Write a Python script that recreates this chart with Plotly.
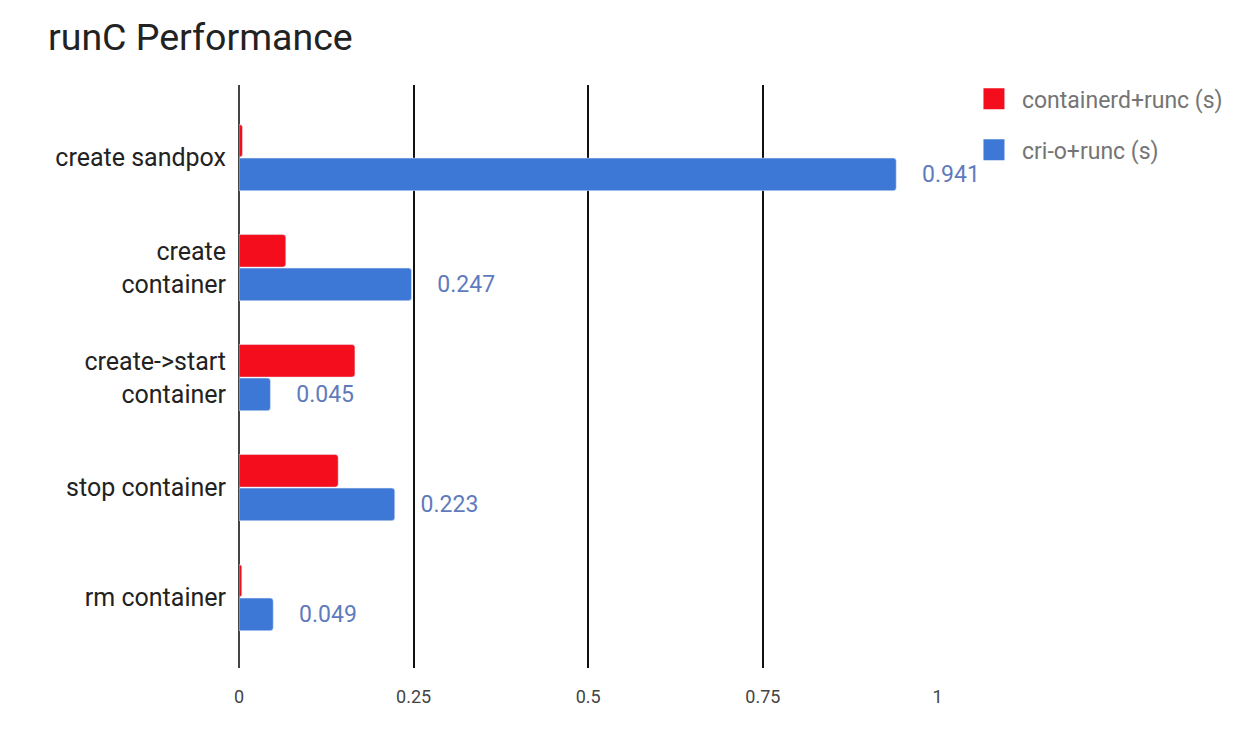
import plotly.graph_objects as go

categories = ["create sandpox", "create<br>container", "create->start<br>container",
              "stop container", "rm container"]
containerd_runc = [0.005, 0.067, 0.166, 0.142, 0.004]
crio_runc = [0.941, 0.247, 0.045, 0.223, 0.049]
x_ticks = [0, 0.25, 0.5, 0.75, 1]
x_tick_labels = ["0", "0.25", "0.5", "0.75", "1"]

RED = "#f40d1c"
BLUE = "#3d78d6"
FONT = "Roboto"

fig = go.Figure()

fig.add_trace(go.Bar(
    y=categories, x=containerd_runc, orientation="h",
    name="containerd+runc (s)", marker=dict(color=RED, cornerradius=3),
    showlegend=False, hoverinfo="x+name",
))
fig.add_trace(go.Bar(
    y=categories, x=crio_runc, orientation="h",
    name="cri-o+runc (s)", marker=dict(color=BLUE, cornerradius=3),
    text=["\u00a0\u00a0\u00a0\u00a0" + str(v) for v in crio_runc],
    textposition="outside", constraintext="none", cliponaxis=False,
    textfont=dict(family=FONT, size=23, color="#5f7bbd"),
    showlegend=False, hoverinfo="x+name",
))

# legend entries with big square swatches
for name, col, grp in [("containerd+runc (s)", RED, "a"), ("cri-o+runc (s)", BLUE, "b")]:
    fig.add_trace(go.Scatter(
        x=[None], y=[None], mode="markers", name=name, legendgroup=grp,
        marker=dict(symbol="square", size=24, color=col, line=dict(color=col, width=5)),
    ))

# page body adds an 8px offset, so everything is placed 8px up/left
fig.update_layout(
    width=1243, height=733,
    margin=dict(l=231, r=313, t=77, b=73),
    paper_bgcolor="white", plot_bgcolor="white",
    barmode="group", bargap=0.39, bargroupgap=0.03,
    title=dict(text="runC Performance", x=40 / 1243, xref="container", xanchor="left",
               y=1 - 29 / 733, yref="container", yanchor="middle",
               font=dict(family=FONT, size=37.5, color="#222222")),
    legend=dict(x=1.040, y=1.013, xanchor="left", yanchor="top",
                bgcolor="rgba(0,0,0,0)",
                font=dict(family=FONT, size=23, color="#757575"),
                itemsizing="trace", itemwidth=46, tracegroupgap=18,
                traceorder="grouped"),
    font=dict(family=FONT),
)

fig.update_xaxes(
    range=[0, 1.0008], tickvals=x_ticks, ticktext=x_tick_labels,
    showgrid=True, gridcolor="#111111", gridwidth=1.6,
    zeroline=True, zerolinecolor="#444444", zerolinewidth=1.6,
    showline=False, ticks="", ticklabelstandoff=16,
    tickfont=dict(family=FONT, size=18, color="#444444"),
    fixedrange=True,
)
fig.update_yaxes(
    range=[4.64, -0.66], showgrid=False, zeroline=False, showline=False,
    ticks="", ticklabelstandoff=12,
    tickfont=dict(family=FONT, size=25, color="#222222"),
    fixedrange=True,
)

fig.write_html("out.html")
